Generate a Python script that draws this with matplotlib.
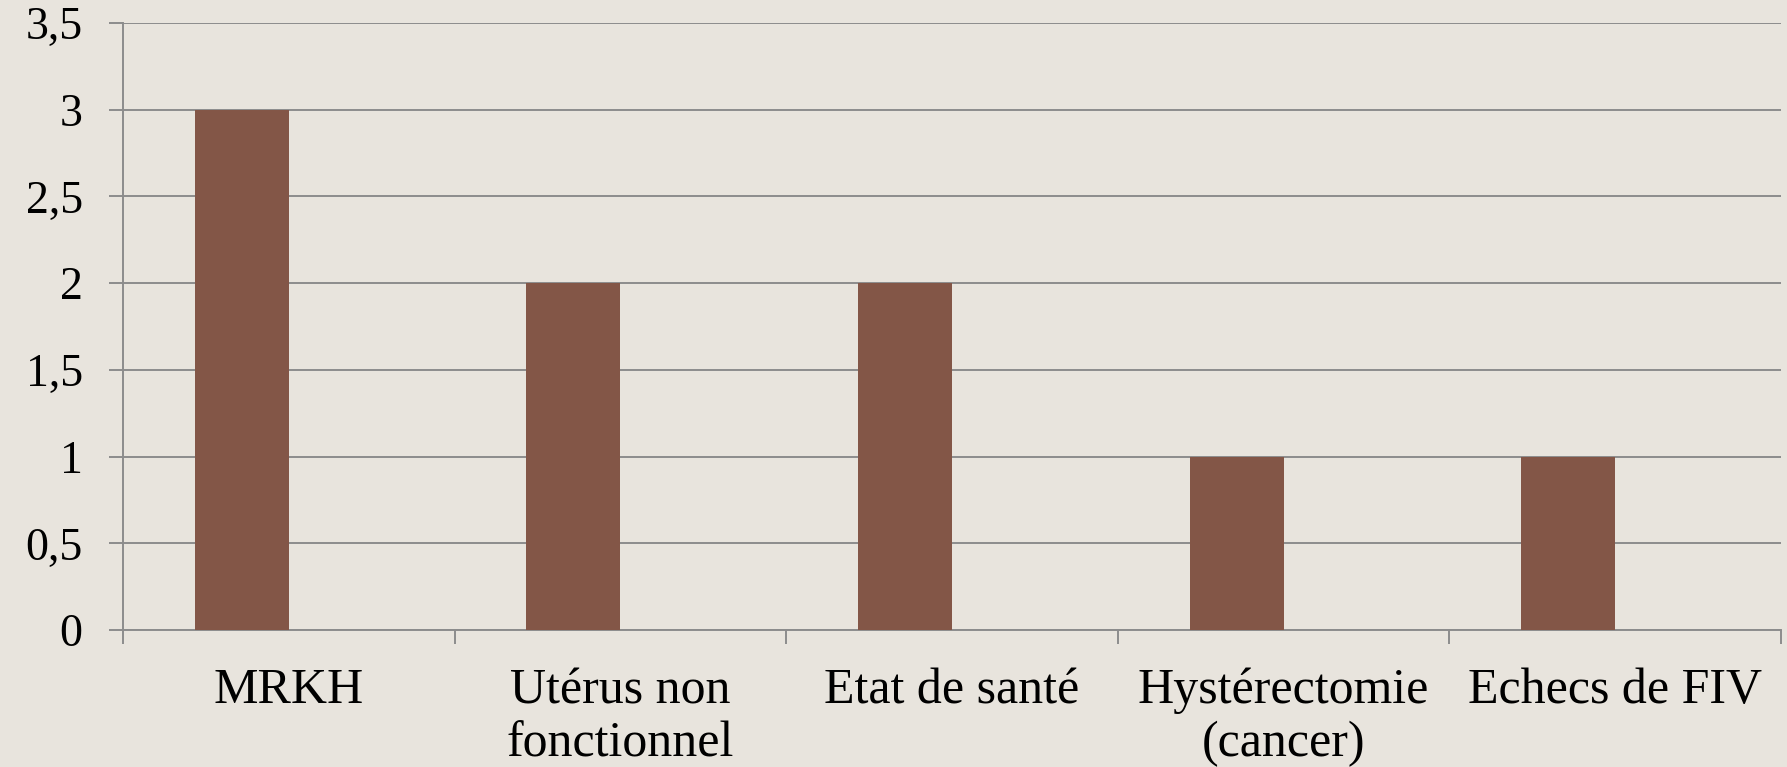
import matplotlib.pyplot as plt
import numpy as np

# categories and values
categories = ["MRKH", "Utérus non\nfonctionnel", "Etat de santé", "Hystérectomie\n(cancer)", "Echecs de FIV"]
values = [3, 2, 2, 1, 1]
yticks = [0, 0.5, 1, 1.5, 2, 2.5, 3, 3.5]
ytick_labels = ["0", "0,5", "1", "1,5", "2", "2,5", "3", "3,5"]

bg = "#e8e4dd"
bar_color = "#835647"
line_color = "#8c8c8c"

plt.rcParams['font.family'] = ['Liberation Serif', 'DejaVu Serif']

fig = plt.figure(figsize=(17.87, 7.67), dpi=100, facecolor=bg)
ax = fig.add_axes([0.0688, 0.1786, 0.9278, 0.7914])
ax.set_facecolor(bg)

x = np.arange(len(categories))
w = 0.283
ax.bar(x - w / 2, values, width=w, color=bar_color, zorder=3)

ax.set_xlim(-0.5, len(categories) - 0.5)
ax.set_ylim(0, 3.5)
ax.set_yticks(yticks)
ax.set_yticklabels(ytick_labels, fontsize=33)
ax.yaxis.grid(True, color=line_color, linewidth=1.4, zorder=0)

# category ticks at the boundaries, labels at the centres
ax.set_xticks(np.arange(len(categories) + 1) - 0.5)
ax.set_xticklabels([])
ax.set_xticks(x, minor=True)
ax.set_xticklabels(categories, minor=True, fontsize=36, linespacing=1.2)
ax.tick_params(axis='x', which='minor', length=0, pad=27)
ax.tick_params(axis='x', which='major', length=10, width=1.4, color=line_color)
ax.tick_params(axis='y', length=10, width=1.4, color=line_color, pad=19)

for s in ['top', 'right']:
    ax.spines[s].set_visible(False)
for s in ['left', 'bottom']:
    ax.spines[s].set_color(line_color)
    ax.spines[s].set_linewidth(1.4)

fig.savefig("out.png", dpi=100, facecolor=bg)
